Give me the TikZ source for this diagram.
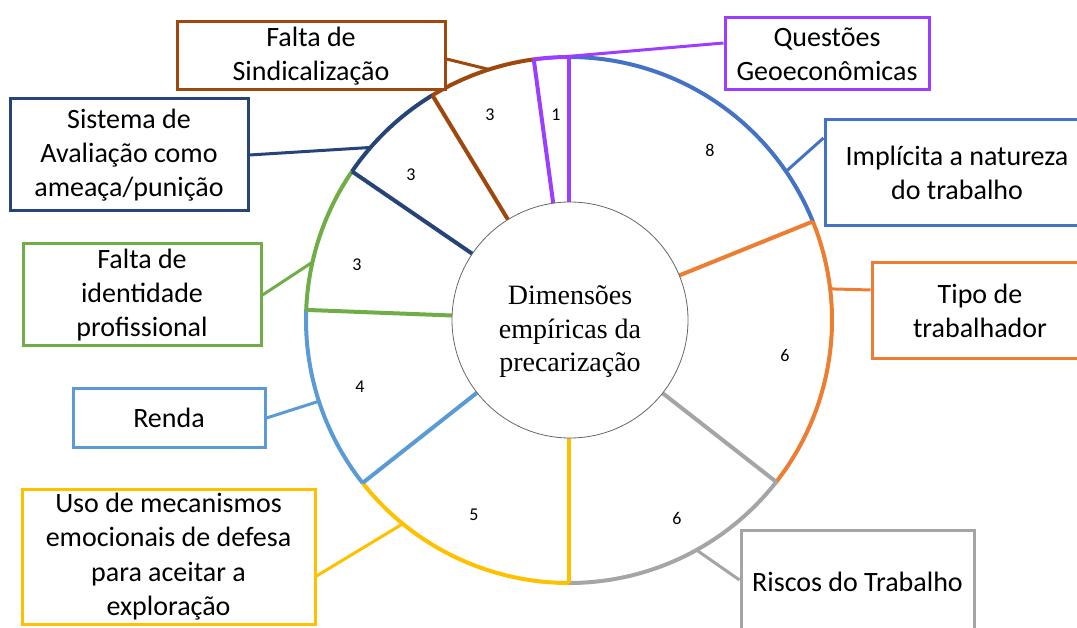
\documentclass[tikz,border=0pt]{standalone}
\usepackage{fontspec}
\setmainfont{Carlito}
\newfontfamily\timesf{Liberation Serif}
\usetikzlibrary{calc}
\definecolor{cblue}{HTML}{4472C4}
\definecolor{corange}{HTML}{ED7D31}
\definecolor{cgray}{HTML}{A5A5A5}
\definecolor{cyellow}{HTML}{FFC000}
\definecolor{clblue}{HTML}{5B9BD5}
\definecolor{cgreen}{HTML}{70AD47}
\definecolor{cnavy}{HTML}{264478}
\definecolor{cbrown}{HTML}{9E480E}
\definecolor{cpurple}{HTML}{9D3DFF}
\begin{document}
\begin{tikzpicture}[x=1pt,y=-1pt,
  lbl/.style={draw=#1, line width=3pt, fill=white, align=center,
    font=\fontsize{28}{34.3}\selectfont, inner sep=0pt},
  con/.style={draw=#1, line width=3pt},
  seg/.style={draw=#1, line width=4pt},
  num/.style={font=\fontsize{18}{20}\selectfont, inner sep=0pt}]
\useasboundingbox (0,0) rectangle (1077,628);
\clip (0,0) rectangle (1077,628);
\coordinate (c) at (569,320);

% ring arcs
\foreach \s/\e/\col in {-22/-90/cblue, 38/-22/corange, 90/38/cgray,
  141.7/90/cyellow, 182.2/141.7/clblue, -145.6/-177.8/cgreen,
  -121.3/-145.6/cnavy, -97.7/-121.3/cbrown, -90/-97.7/cpurple}
  \draw[seg=\col] ($(c)+(\s:263)$) arc[start angle=\s, end angle=\e, radius=263];
% radial lines
\foreach \t/\col in {-22/corange, 38/cgray, 90/cyellow, 141.7/clblue,
  -177.8/cgreen, -145.6/cnavy, -121.3/cbrown, -97.7/cpurple, -90/cpurple}
  \draw[seg=\col] ($(c)+(\t:100)$) -- ($(c)+(\t:263)$);

% connector points on the ring
\coordinate (psind) at ($(c)+(-107.7:263)$);
\coordinate (pques) at ($(c)+(-97.7:263)$);
\coordinate (psist) at ($(c)+(-139:263)$);
\coordinate (pimpl) at ($(c)+(-34.4:263)$);
\coordinate (pfalta) at ($(c)+(-167.3:263)$);
\coordinate (ptipo) at ($(c)+(-6.8:263)$);
\coordinate (prenda) at ($(c)+(162:263)$);
\coordinate (puso) at ($(c)+(129.2:263)$);
\coordinate (prisc) at ($(c)+(61:263)$);

% label boxes
\node[lbl=cbrown, minimum width=268pt, minimum height=68pt] (sind) at (311,56) {Falta de\\Sindicalização};
\node[lbl=cpurple, minimum width=204pt, minimum height=72pt] (ques) at (827,54) {Questões\\Geoeconômicas};
\node[lbl=cnavy, minimum width=238pt, minimum height=112pt] (sist) at (129,155) {Sistema de\\Avaliação como\\ameaça/punição};
\node[lbl=cblue, minimum width=264pt, minimum height=106pt] (impl) at (957,173) {Implícita a natureza\\do trabalho};
\node[lbl=cgreen, minimum width=238pt, minimum height=102pt] (falta) at (142,295) {Falta de\\identidade\\profissional};
\node[lbl=corange, minimum width=216pt, minimum height=96pt] (tipo) at (980,311) {Tipo de\\trabalhador};
\node[lbl=clblue, minimum width=192pt, minimum height=59pt] (renda) at (169,418) {Renda};
\node[lbl=cyellow, minimum width=293pt, minimum height=135pt] (uso) at (168.5,556.5) {Uso de mecanismos\\emocionais de defesa\\para aceitar a\\exploração};
\node[lbl=cgray, minimum width=233pt, minimum height=104pt] (risc) at (857.5,582) {Riscos do Trabalho};

% connectors
\draw[con=cbrown] ($(sind.east)+(0,3)$) -- (psind);
\draw[con=cpurple] (pques) -- ($(ques.west)+(0,-11)$);
\draw[con=cnavy] (sist.east) -- (psist);
\draw[con=cblue] (pimpl) -- ($(impl.west)+(0,-35)$);
\draw[con=cgreen] (falta.east) -- (pfalta);
\draw[con=corange] (ptipo) -- ($(tipo.west)+(0,-21)$);
\draw[con=clblue] (renda.east) -- (prenda);
\draw[con=cyellow] ($(uso.east)+(0,19.5)$) -- (puso);
\draw[con=cgray] (prisc) -- ($(risc.west)+(0,-2)$);

% centre
\node[circle, draw=black!60, line width=0.8pt, fill=white, minimum size=236pt,
  inner sep=0pt] (centre) at (570,320) {};
\node[align=center, inner sep=0pt, font=\timesf\fontsize{28}{33.5}\selectfont]
  (ctext) at (570,332) {Dimensões\\empíricas da\\precarização};

% values
\node[num] (v1) at (710,150) {8};
\node[num] (v2) at (785,355) {6};
\node[num] (v3) at (677,518) {6};
\node[num] (v4) at (474,515) {5};
\node[num] (v5) at (360,387) {4};
\node[num] (v6) at (357,265) {3};
\node[num] (v7) at (411,175) {3};
\node[num] (v8) at (490,115) {3};
\node[num] (v9) at (556,115) {1};
\end{tikzpicture}
\end{document}
